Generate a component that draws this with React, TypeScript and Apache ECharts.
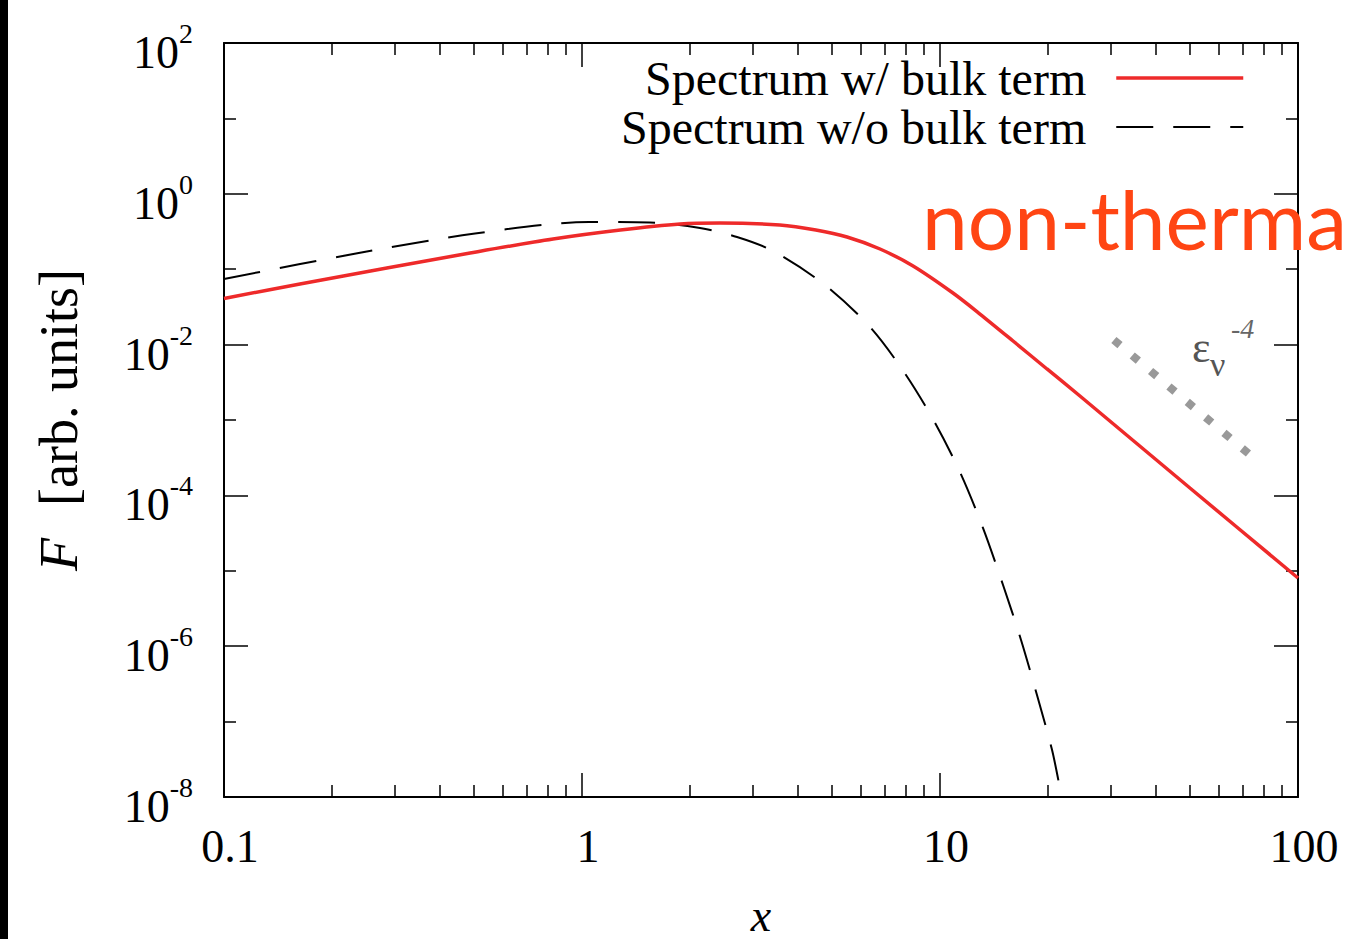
import React, { useEffect, useRef } from 'react';
import * as echarts from 'echarts';

// ---- data ----
const xWithBulk = [0.1, 0.163, 0.285, 0.487, 0.83, 1.28, 1.88, 2.43, 3.57, 4.5, 5.5, 6.8, 8.41, 10.87, 12.93, 16.0, 19.9, 24.6, 49.9, 100];
const fWithBulk = [0.0409, 0.0637, 0.1037, 0.164, 0.2515, 0.331, 0.3977, 0.41, 0.3857, 0.331, 0.2674, 0.1853, 0.1103, 0.0483, 0.02545, 0.01116, 0.00475, 0.00208, 1.253e-4, 8.02e-6];

const xWithoutBulk = [0.1, 0.2337, 0.5025, 1.046, 1.548, 2.136, 2.71, 3.417, 4.773, 6.375, 7.931, 9.621, 11.37, 13.19, 15.0, 16.84, 18.66, 20.56, 21.63, 22.49];
const fWithoutBulk = [0.0741, 0.1615, 0.2975, 0.4227, 0.4163, 0.3518, 0.2674, 0.1743, 0.0617, 0.01712, 0.004331, 9.7e-4, 2.04e-4, 3.69e-5, 6.48e-6, 1.21e-6, 2.25e-7, 4.2e-8, 1.32e-8, 5.8e-9];

const guideX = [30.6, 73.5];
const guideF = [0.0115, 3.44e-4];

const seriesNames = ['Spectrum w/ bulk term', 'Spectrum w/o bulk term'];

const xMajorTicks = [0.1, 1, 10, 100];
const xTickLabels = ['0.1', '1', '10', '100'];
const xMinorTicks = [0.2, 0.3, 0.4, 0.5, 0.6, 0.7, 0.8, 0.9, 2, 3, 4, 5, 6, 7, 8, 9, 20, 30, 40, 50, 60, 70, 80, 90];
const yMajorTicks = [1e-8, 1e-6, 1e-4, 1e-2, 1, 100];
const yMinorTicks = [1e-7, 1e-5, 1e-3, 1e-1, 10];

const SERIF = '"Liberation Serif", "Times New Roman", serif';
const RED = '#ee2a2a';

function zip(xs: number[], ys: number[]) {
  return xs.map((x, i) => [x, ys[i]]);
}

export default function App() {
  const ref = useRef<HTMLDivElement>(null);

  useEffect(() => {
    document.body.style.margin = '0';
    if (!ref.current) return;
    const chart = echarts.init(ref.current, undefined, { renderer: 'svg' });

    const tickLine = { color: '#000', width: 1.5 };
    const xBase = { type: 'log', logBase: 10, min: 0.1, max: 100, splitLine: { show: false }, minorTick: { show: false } };
    const yBase = { type: 'log', logBase: 10, min: 1e-8, max: 100, splitLine: { show: false }, minorTick: { show: false } };

    const option: any = {
      animation: false,
      backgroundColor: '#fff',
      grid: { left: 224, right: 48, top: 43, bottom: 142, containLabel: false, outerBoundsMode: 'none' },
      legend: {
        data: [
          { name: seriesNames[0], lineStyle: { color: RED, width: 3.5 } },
          { name: seriesNames[1], lineStyle: { color: '#000', width: 2, type: [37, 20] } },
        ],
        orient: 'vertical',
        align: 'right',
        right: 101,
        top: 54,
        padding: 0,
        itemWidth: 127,
        itemHeight: 14,
        itemGap: 1,
        selectedMode: false,
        itemStyle: { color: 'rgba(0,0,0,0)', borderWidth: 0, opacity: 0 },
        textStyle: { fontFamily: SERIF, fontSize: 48, color: '#000', padding: [0, 25, 0, 0] },
      },
      xAxis: [
        {
          ...xBase,
          position: 'bottom',
          axisLine: { show: true, onZero: false, lineStyle: { color: '#000', width: 2 } },
          axisTick: { show: true, inside: true, length: 24, customValues: xMajorTicks, lineStyle: tickLine },
          axisLabel: {
            show: true,
            customValues: xMajorTicks,
            margin: 26,
            padding: [0, 0, 0, 12],
            fontFamily: SERIF,
            fontSize: 46,
            color: '#000',
            formatter: (v: number) => xTickLabels[Math.round(Math.log10(v)) + 1],
          },
          name: 'x',
          nameLocation: 'middle',
          nameGap: 95,
          nameTextStyle: { fontFamily: SERIF, fontStyle: 'italic', fontSize: 46, lineHeight: 46, color: '#000' },
        },
        {
          ...xBase,
          position: 'bottom',
          axisLine: { show: false },
          axisTick: { show: true, inside: true, length: 12, customValues: xMinorTicks, lineStyle: tickLine },
          axisLabel: { show: false },
        },
        {
          ...xBase,
          position: 'top',
          axisLine: { show: true, onZero: false, lineStyle: { color: '#000', width: 2 } },
          axisTick: { show: true, inside: true, length: 24, customValues: xMajorTicks, lineStyle: tickLine },
          axisLabel: { show: false },
        },
        {
          ...xBase,
          position: 'top',
          axisLine: { show: false },
          axisTick: { show: true, inside: true, length: 12, customValues: xMinorTicks, lineStyle: tickLine },
          axisLabel: { show: false },
        },
      ],
      yAxis: [
        {
          ...yBase,
          position: 'left',
          axisLine: { show: true, onZero: false, lineStyle: { color: '#000', width: 2 } },
          axisTick: { show: true, inside: true, length: 24, customValues: yMajorTicks, lineStyle: tickLine },
          axisLabel: {
            show: true,
            customValues: yMajorTicks,
            margin: 31,
            padding: [9, 0, 0, 0],
            formatter: (v: number) => `{b|10}{s|${Math.round(Math.log10(v))}}`,
            rich: {
              b: { fontFamily: SERIF, fontSize: 46, lineHeight: 56, verticalAlign: 'bottom', color: '#000' },
              s: { fontFamily: SERIF, fontSize: 28, lineHeight: 20, verticalAlign: 'top', color: '#000' },
            },
          },
          name: '{i|F}{g|}{r|[arb. units]}',
          nameLocation: 'middle',
          nameGap: 138,
          nameRotate: 90,
          nameTextStyle: {
            rich: {
              i: { fontFamily: SERIF, fontStyle: 'italic', fontSize: 54, color: '#000' },
              g: { width: 32 },
              r: { fontFamily: SERIF, fontSize: 54, color: '#000' },
            },
          },
        },
        {
          ...yBase,
          position: 'left',
          axisLine: { show: false },
          axisTick: { show: true, inside: true, length: 12, customValues: yMinorTicks, lineStyle: tickLine },
          axisLabel: { show: false },
        },
        {
          ...yBase,
          position: 'right',
          axisLine: { show: true, onZero: false, lineStyle: { color: '#000', width: 2 } },
          axisTick: { show: true, inside: true, length: 24, customValues: yMajorTicks, lineStyle: tickLine },
          axisLabel: { show: false },
        },
        {
          ...yBase,
          position: 'right',
          axisLine: { show: false },
          axisTick: { show: true, inside: true, length: 12, customValues: yMinorTicks, lineStyle: tickLine },
          axisLabel: { show: false },
        },
      ],
      series: [
        {
          name: seriesNames[1],
          type: 'line',
          xAxisIndex: 0,
          yAxisIndex: 0,
          data: zip(xWithoutBulk, fWithoutBulk),
          symbol: 'none',
          smooth: 0.3,
          clip: true,
          lineStyle: { color: '#000', width: 2, type: [37, 20] },
          itemStyle: { color: '#000' },
          z: 2,
        },
        {
          name: seriesNames[0],
          type: 'line',
          xAxisIndex: 0,
          yAxisIndex: 0,
          data: zip(xWithBulk, fWithBulk),
          symbol: 'none',
          smooth: 0.3,
          clip: true,
          lineStyle: { color: RED, width: 3.5 },
          itemStyle: { color: RED },
          z: 3,
        },
        {
          name: 'guide',
          type: 'line',
          xAxisIndex: 0,
          yAxisIndex: 0,
          data: zip(guideX, guideF),
          symbol: 'none',
          silent: true,
          lineStyle: { color: '#999', width: 8, type: [8, 16], cap: 'butt' },
          z: 1,
        },
      ],
      graphic: [
        { type: 'rect', shape: { x: 0, y: 0, width: 8, height: 939 }, style: { fill: '#000' }, z: 100 },
        {
          type: 'text', x: 922, y: 218, z: 50,
          style: { text: 'non-thermal', fontFamily: 'Lato, "Open Sans", sans-serif', fontSize: 82, fill: '#ff4513', align: 'left', verticalAlign: 'middle' },
        },
        {
          type: 'text', x: 1192, y: 347, z: 50,
          style: { text: 'ε', fontFamily: SERIF, fontSize: 44, fill: '#555', align: 'left', verticalAlign: 'middle' },
        },
        {
          type: 'text', x: 1210, y: 364, z: 50,
          style: { text: 'ν', fontFamily: SERIF, fontSize: 34, fill: '#555', align: 'left', verticalAlign: 'middle' },
        },
        {
          type: 'text', x: 1231, y: 328, z: 50,
          style: { text: '-4', fontFamily: SERIF, fontStyle: 'italic', fontSize: 28, fill: '#666', align: 'left', verticalAlign: 'middle' },
        },
      ],
    };

    chart.setOption(option);
    return () => chart.dispose();
  }, []);

  return <div ref={ref} style={{ width: 1346, height: 939 }} />;
}
